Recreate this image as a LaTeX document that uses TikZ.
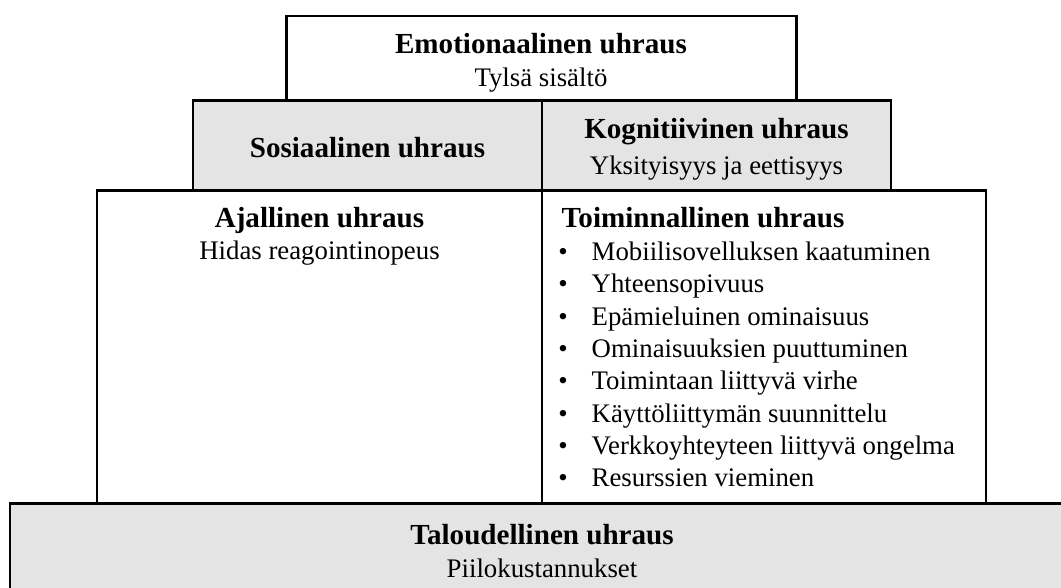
\documentclass[tikz,border=0pt]{standalone}
\usepackage{fontspec}
\setmainfont{Liberation Serif}
\definecolor{boxgray}{RGB}{228,228,228}
\begin{document}
\begin{tikzpicture}[x=1pt,y=-1pt,
  box/.style={draw=black, line width=2.2pt, inner sep=0pt, outer sep=0pt, anchor=north west},
  wbox/.style={box, fill=white},
  gbox/.style={box, fill=boxgray},
  ttl/.style={font=\fontsize{29.1}{34}\selectfont\bfseries, anchor=base, inner sep=0pt},
  sub/.style={font=\fontsize{26.8}{32}\selectfont, anchor=base, inner sep=0pt},
  item/.style={font=\fontsize{26.8}{32}\selectfont, anchor=base west, inner sep=0pt},
  bul/.style={font=\fontsize{26.8}{32}\selectfont, anchor=base, inner sep=0pt}]
\useasboundingbox (0,0) rectangle (1061,588);
\clip (0,0) rectangle (1061,588);
% boxes
\node[wbox, minimum width=510pt, minimum height=84.5pt] (emo) at (286.5,16) {};
\node[gbox, minimum width=349pt, minimum height=90pt] (sos) at (193,100.5) {};
\node[gbox, minimum width=349pt, minimum height=90pt] (kog) at (542,100.5) {};
\node[wbox, minimum width=445pt, minimum height=313pt] (ajal) at (97,190.5) {};
\node[wbox, minimum width=444pt, minimum height=313pt] (toim) at (542,190.5) {};
\node[gbox, minimum width=1070pt, minimum height=100pt] (talo) at (10,503.5) {};
% texts
\node[ttl] (emoT) at (541,54) {Emotionaalinen uhraus};
\node[sub] (emoS) at (541,87) {Tylsä sisältö};
\node[ttl] (sosT) at (367.5,157.5) {Sosiaalinen uhraus};
\node[ttl] (kogT) at (716.5,139) {Kognitiivinen uhraus};
\node[sub] (kogS) at (716.5,174.5) {Yksityisyys ja eettisyys};
\node[ttl] (ajalT) at (319.5,227.5) {Ajallinen uhraus};
\node[sub] (ajalS) at (319.5,260) {Hidas reagointinopeus};
\node[ttl, anchor=base west] (toimT) at (561.5,227.5) {Toiminnallinen uhraus};
\foreach \t [count=\i from 0] in {Mobiilisovelluksen kaatuminen, Yhteensopivuus, Epämieluinen ominaisuus, Ominaisuuksien puuttuminen, Toimintaan liittyvä virhe, Käyttöliittymän suunnittelu, Verkkoyhteyteen liittyvä ongelma, Resurssien vieminen}{
  \node[bul] (b\i) at (563,260.5+32.3*\i) {•};
  \node[item] (i\i) at (591.5,260.5+32.3*\i) {\t};
}
\node[ttl] (taloT) at (542,544) {Taloudellinen uhraus};
\node[sub] (taloS) at (542,577) {Piilokustannukset};
\end{tikzpicture}
\end{document}
